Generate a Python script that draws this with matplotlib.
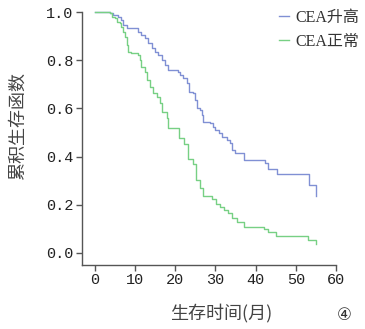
import matplotlib
matplotlib.use("Agg")
import matplotlib.pyplot as plt

# CEA升高 (elevated) Kaplan-Meier steps
t_high = [0, 3.7, 4.6, 5.8, 6.6, 7.1, 7.9, 10.8, 11.6, 12.5, 13.3, 14.1, 15.0, 15.8,
          16.6, 17.5, 18.3, 20.8, 21.2, 22.0, 22.9, 23.3, 24.5, 24.9, 25.4, 26.2, 26.6,
          27.0, 28.7, 29.5, 29.9, 30.8, 31.6, 32.8, 33.7, 34.1, 34.9, 37.0, 42.4, 43.2,
          45.3, 53.2, 55.1]
s_high = [1.0, 0.995, 0.987, 0.98, 0.967, 0.946, 0.932, 0.919, 0.905, 0.891, 0.87, 0.85,
          0.836, 0.822, 0.801, 0.78, 0.759, 0.752, 0.739, 0.725, 0.704, 0.669, 0.663,
          0.635, 0.60, 0.594, 0.573, 0.545, 0.538, 0.524, 0.51, 0.497, 0.483, 0.469,
          0.455, 0.427, 0.414, 0.386, 0.372, 0.349, 0.326, 0.282, 0.237]

# CEA正常 (normal)
t_norm = [0, 3.7, 4.2, 5.0, 5.4, 6.2, 6.6, 7.1, 7.5, 7.9, 8.3, 9.1, 10.8, 11.2, 11.6,
          12.5, 12.9, 13.7, 14.5, 15.4, 16.2, 16.6, 17.9, 18.3, 21.0, 22.2, 23.1, 24.3,
          25.1, 26.2, 27.0, 29.1, 30.1, 31.2, 32.2, 33.1, 34.1, 35.3, 37.1, 42.2, 43.2,
          45.1, 53.1, 55.1]
s_norm = [1.0, 0.995, 0.981, 0.974, 0.960, 0.953, 0.939, 0.918, 0.898, 0.863, 0.836,
          0.829, 0.822, 0.801, 0.773, 0.752, 0.718, 0.69, 0.663, 0.649, 0.621, 0.587,
          0.559, 0.518, 0.476, 0.452, 0.388, 0.369, 0.303, 0.271, 0.238, 0.224, 0.203,
          0.189, 0.178, 0.164, 0.144, 0.130, 0.109, 0.100, 0.086, 0.070, 0.054, 0.037]

labels = ["CEA升高", "CEA正常"]
xticks = [0, 10, 20, 30, 40, 50, 60]
yticks = [0.0, 0.2, 0.4, 0.6, 0.8, 1.0]

fig = plt.figure(figsize=(3.65, 3.29), dpi=100)
ax = fig.add_axes([82/365, 1-265/329, (336-82)/365, (265-12)/329])

ax.step(t_high, s_high, where="post", color="#8090d4", lw=1.0, label=labels[0], clip_on=False)
ax.step(t_norm, s_norm, where="post", color="#77d084", lw=1.0, label=labels[1], clip_on=False)

ax.set_xlim(-3.2, 60)
ax.set_ylim(-0.05, 1.0)
ax.set_xticks(xticks)
ax.set_yticks(yticks)
ax.set_xticklabels([str(v) for v in xticks], family="Liberation Mono", fontsize=11)
ax.set_yticklabels([f"{v:.1f}" for v in yticks], family="Liberation Mono", fontsize=11)
for s in ["top", "right"]:
    ax.spines[s].set_visible(False)
for s in ["left", "bottom"]:
    ax.spines[s].set_color("#555555")
    ax.spines[s].set_linewidth(1.0)
ax.tick_params(direction="out", length=4, width=1, color="#555555", labelcolor="#222222", pad=2)

leg = ax.legend(loc="upper right", bbox_to_anchor=(1.15, 1.065), frameon=False,
                handlelength=0.6, handletextpad=0.45, labelspacing=0.5,
                prop={"family": ["Liberation Serif", "Noto Sans CJK SC"], "size": 11.5})
for t in leg.get_texts():
    t.set_color("#333333")

fig.text(221/365, 1-313/329, "生存时间(月)", family=["Noto Sans CJK SC"], fontsize=13,
         ha="center", va="center", color="#444444")
fig.text(18/365, 1-126/329, "累积生存函数", family=["Noto Sans CJK SC"], fontsize=13,
         ha="center", va="center", rotation=90, color="#444444")
fig.text(344/365, 1-315/329, "④", family=["DejaVu Sans", "Noto Sans CJK SC"], fontsize=12,
         ha="center", va="center", color="#333333")

fig.savefig("out.png", dpi=100)
